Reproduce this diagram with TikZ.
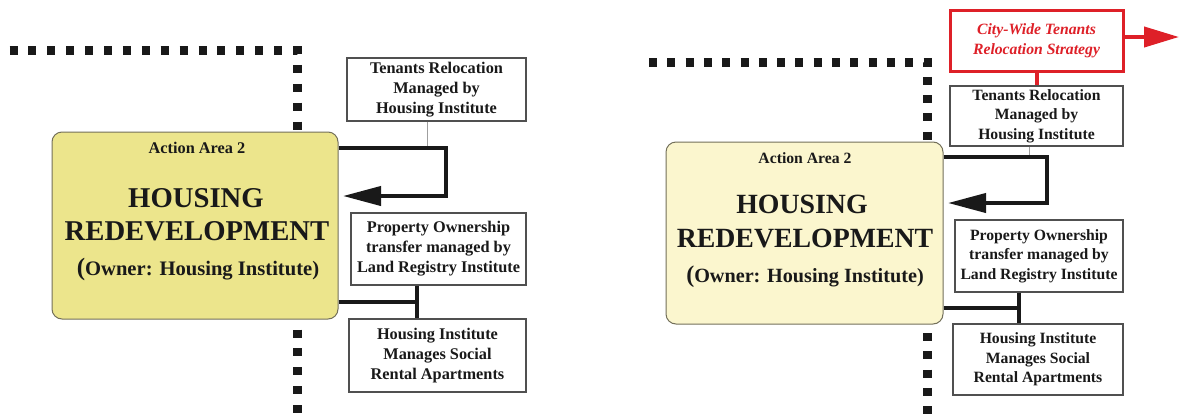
\documentclass[tikz,border=0pt]{standalone}
\usepackage{fontspec}
\setmainfont{Liberation Serif}
\usetikzlibrary{arrows.meta}

\definecolor{boxyellow}{RGB}{236,229,140}
\definecolor{paleyellow}{RGB}{251,246,206}
\definecolor{strategyred}{RGB}{222,32,40}
\definecolor{inkblack}{RGB}{25,25,25}
\definecolor{edgegray}{RGB}{80,80,80}
\definecolor{areaedge}{RGB}{115,112,90}

\tikzset{
  boundary/.style={draw=inkblack, line width=9pt, dash pattern=on 8pt off #1, line join=miter},
  areabox/.style={draw=areaedge, line width=1pt, rounded corners=10pt, inner sep=0pt},
  infobox/.style 2 args={draw=edgegray, line width=1.3pt, fill=white, align=center, inner sep=0pt,
    text=inkblack, font=\bfseries\fontsize{#1}{#2}\selectfont},
  strategybox/.style 2 args={draw=strategyred, line width=3pt, fill=white, align=center, inner sep=0pt,
    text=strategyred, font=\bfseries\itshape\fontsize{#1}{#2}\selectfont},
  textline/.style={anchor=base, inner sep=0pt, text=inkblack, font=\bfseries\fontsize{#1}{#1}\selectfont},
  flow/.style={draw=inkblack, line width=4pt, line join=miter, -{Triangle[length=38pt,width=19pt]}},
  link/.style={draw=inkblack, line width=3.5pt},
  thinlink/.style={draw=gray!75, line width=1pt},
  redflow/.style={draw=strategyred, line width=4pt, -{Triangle[length=35pt,width=20pt]}},
  redlink/.style={draw=strategyred, line width=4pt},
}

\newcommand{\bigparen}[1]{{\fontsize{#1}{#1}\selectfont(}}

\begin{document}
\begin{tikzpicture}[x=1pt,y=-1pt]
  \useasboundingbox (0,0) rectangle (1181,413);
  \fill[white] (0,0) rectangle (1181,413);

  % ---------- first panel ----------
  \draw[boundary=10.9pt] (9.5,50) -- (297,50) -- (297,415);

  \node[areabox, fill=boxyellow, minimum width=286pt, minimum height=187pt] (main1) at (195,225.5) {};
  \node[textline=16.3] (act1) at (197,153) {Action Area 2};
  \node[textline=28.7] (hs1) at (196,207) {HOUSING};
  \node[textline=28.7] (rd1) at (197,240.5) {REDEVELOPMENT};
  \node[textline=20.6] (ow1) at (198,275) {\bigparen{25}Owner: Housing Institute)};

  \node[infobox={16.3}{20}, minimum width=179pt, minimum height=63pt] (ten1) at (436.5,89.5)
    {Tenants Relocation\\Managed by\\Housing Institute};
  \node[infobox={16.3}{20}, minimum width=175pt, minimum height=72pt] (prop1) at (438.5,249)
    {Property Ownership\\transfer managed by\\Land Registry Institute};
  \node[infobox={16.3}{20}, minimum width=177pt, minimum height=73pt] (hous1) at (437.5,355.5)
    {Housing Institute\\Manages Social\\Rental Apartments};

  \coordinate (loop1) at (446,148);
  \coordinate (tip1) at (343,196);
  \coordinate (tap1) at (427,148);
  \coordinate (join1) at (417,302);
  \draw[thinlink] (ten1.south -| tap1) -- (tap1);
  \draw[flow] (main1.east |- loop1) -- (loop1) -- (loop1 |- tip1) -- (tip1);
  \draw[link] (main1.east |- join1) -- (join1);
  \draw[link] (prop1.south -| join1) -- (hous1.north -| join1);

  % ---------- second panel ----------
  \draw[boundary=10.3pt] (649,62) -- (927,62) -- (927,415);

  \node[areabox, fill=paleyellow, minimum width=277pt, minimum height=182pt] (main2) at (804.5,233) {};
  \node[textline=15.7] (act2) at (805,163) {Action Area 2};
  \node[textline=27.8] (hs2) at (802,213) {HOUSING};
  \node[textline=27.8] (rd2) at (805,247.5) {REDEVELOPMENT};
  \node[textline=20.2] (ow2) at (805,282) {\bigparen{24}Owner: Housing Institute)};

  \node[strategybox={15.7}{19.5}, minimum width=173pt, minimum height=61pt] (city) at (1036.5,40.5)
    {City-Wide Tenants\\Relocation Strategy};
  \node[infobox={15.7}{19.5}, minimum width=173pt, minimum height=60pt] (ten2) at (1036.5,116)
    {Tenants Relocation\\Managed by\\Housing Institute};
  \node[infobox={15.7}{19.5}, minimum width=168pt, minimum height=72pt] (prop2) at (1039,256)
    {Property Ownership\\transfer managed by\\Land Registry Institute};
  \node[infobox={15.7}{19.5}, minimum width=170pt, minimum height=71pt] (hous2) at (1038,359.5)
    {Housing Institute\\Manages Social\\Rental Apartments};

  \coordinate (rtip) at (1179,37);
  \draw[redflow] (city.east |- rtip) -- (rtip);
  \draw[redlink] (city.south) -- (ten2.north);

  \coordinate (loop2) at (1047,157);
  \coordinate (tip2) at (948,203);
  \coordinate (tap2) at (1029,157);
  \coordinate (join2) at (1019,308);
  \draw[thinlink] (ten2.south -| tap2) -- (tap2);
  \draw[flow] (main2.east |- loop2) -- (loop2) -- (loop2 |- tip2) -- (tip2);
  \draw[link] (main2.east |- join2) -- (join2);
  \draw[link] (prop2.south -| join2) -- (hous2.north -| join2);
\end{tikzpicture}
\end{document}
